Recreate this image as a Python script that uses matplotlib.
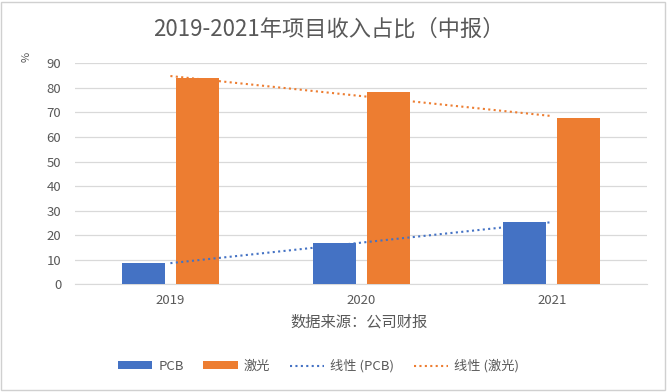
import matplotlib
matplotlib.use("Agg")
import matplotlib.pyplot as plt
import numpy as np
from matplotlib.patches import Rectangle

plt.rcParams['font.family'] = ['Noto Sans CJK SC', 'DejaVu Sans']

years = ['2019', '2020', '2021']
pcb = [8.7, 16.8, 25.4]
laser = [84.0, 78.3, 67.7]
series_names = ['PCB', '激光']
trend_names = ['线性 (PCB)', '线性 (激光)']
title = '2019-2021年项目收入占比（中报）'
xlabel = '数据来源：公司财报'
ylabel = '%'
yticks = [0, 10, 20, 30, 40, 50, 60, 70, 80, 90]

blue = '#4472C4'
orange = '#ED7D31'
gray = '#595959'

fig = plt.figure(figsize=(6.68, 3.92), dpi=100)
ax = fig.add_axes([0.1123, 0.2747, 0.969 - 0.1123, 0.8385 - 0.2747])

x = np.arange(len(years))
w = 0.225
off = 0.1414
ax.bar(x - off, pcb, w, color=blue, label=series_names[0], zorder=3)
ax.bar(x + off, laser, w, color=orange, label=series_names[1], zorder=3)

for vals, c, name in [(pcb, blue, trend_names[0]), (laser, orange, trend_names[1])]:
    k, b = np.polyfit(x, vals, 1)
    ax.plot(x, k * x + b, linestyle=(0, (1, 1.6)), color=c, lw=1.5, label=name, zorder=4)

ax.set_xlim(-0.5, 2.5)
ax.set_ylim(0, 90)
ax.set_yticks(yticks)
ax.set_xticks(x)
ax.set_xticklabels(years)
ax.grid(axis='y', color='#d9d9d9', lw=0.9, zorder=0)
for s in ['left', 'right', 'top']:
    ax.spines[s].set_visible(False)
ax.spines['bottom'].set_color('#d9d9d9')
ax.tick_params(axis='both', length=0, colors=gray, labelsize=9.5)
ax.tick_params(axis='y', pad=10)
ax.tick_params(axis='x', pad=7)

fig.text(0.492, 0.925, title, ha='center', va='center', fontsize=16, color=gray)
fig.text(0.04, 0.855, ylabel, ha='center', va='center', fontsize=8, color=gray, rotation=90)
fig.text(0.537, 0.178, xlabel, ha='center', va='center', fontsize=11, color=gray)

handles, labels = ax.get_legend_handles_labels()
order = [2, 3, 0, 1]
handles = [handles[i] for i in order]
labels = [labels[i] for i in order]
leg = fig.legend(handles, labels, loc='center', bbox_to_anchor=(0.477, 0.066), ncol=4,
                 frameon=False, fontsize=9.5, handlelength=2.6, handleheight=0.5,
                 columnspacing=1.5, handletextpad=0.45)
for t in leg.get_texts():
    t.set_color(gray)

fig.patches.append(Rectangle((0.002, 0.004), 0.994, 0.99, transform=fig.transFigure,
                             fill=False, edgecolor='#d0d0d0', lw=1.0))

fig.savefig('out.png', dpi=100)
